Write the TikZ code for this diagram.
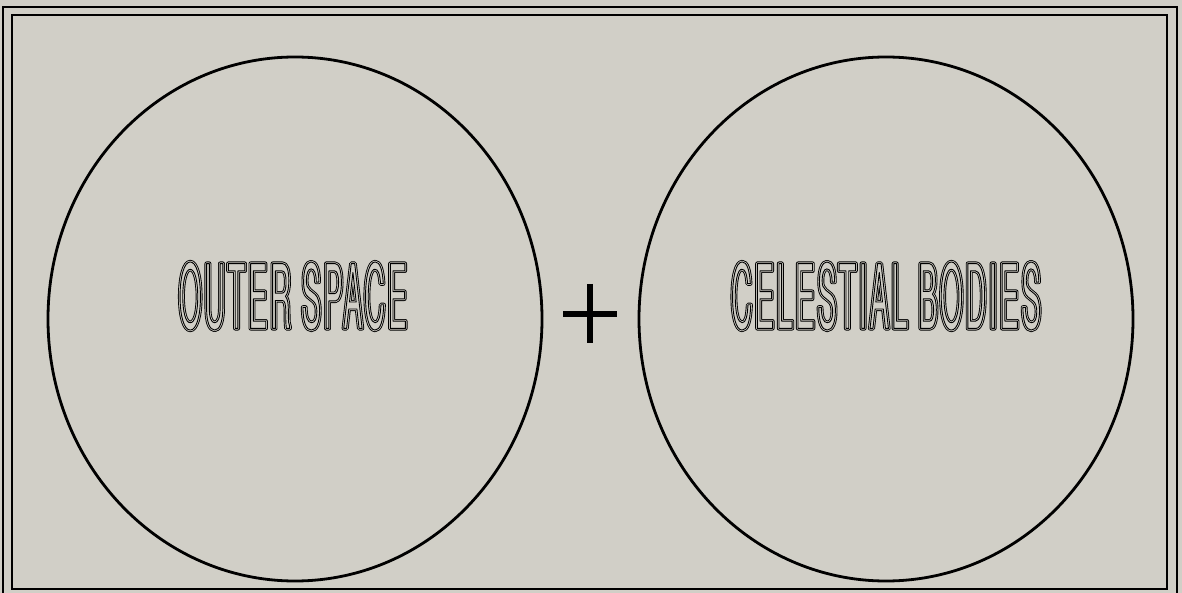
\documentclass[tikz,border=0pt]{standalone}
\usepackage{fontspec}
\usetikzlibrary{shapes.geometric}
\newfontfamily\condfont[FakeStretch=0.325,LetterSpace=3]{TeX Gyre Heros}
\definecolor{bg}{RGB}{209,207,199}
\newcommand{\trmode}[2]{\special{pdf:literal direct #1 Tr #2 w 1 j}}
\newcommand{\dbltext}[1]{%
  \rlap{\trmode{2}{4.2}#1}%
  \rlap{\color{bg}\trmode{2}{2.4}#1}%
  \trmode{1}{0.9}#1\special{pdf:literal direct 0 Tr 1 w 0 j}}
\begin{document}
\begin{tikzpicture}[x=1pt,y=-1pt,
  framel/.style={line width=1.6pt,draw=black},
  circ/.style={draw=black,line width=2.8pt,ellipse,minimum width=494pt,minimum height=524pt,inner sep=0pt},
  lbl/.style={inner sep=0pt,font=\condfont\fontsize{89}{92}\selectfont},
  plusl/.style={line width=5.5pt,draw=black}]
\fill[bg] (0,0) rectangle (1182,593);
\useasboundingbox (0,0) rectangle (1182,593);
\draw[framel] (3,593) -- (3,7) -- (1177,7) -- (1177,593);
\draw[framel] (12,15) rectangle (1167,589);
\node[circ] (left) at (295,319) {};
\node[circ] (right) at (886,319) {};
\node[lbl] (t1) at (293,296) {\dbltext{OUTER SPACE}};
\node[lbl] (t2) at (886,296) {\dbltext{CELESTIAL BODIES}};
\draw[plusl] (590,284) -- (590,343);
\draw[plusl] (563,314) -- (617,314);
\end{tikzpicture}
\end{document}
